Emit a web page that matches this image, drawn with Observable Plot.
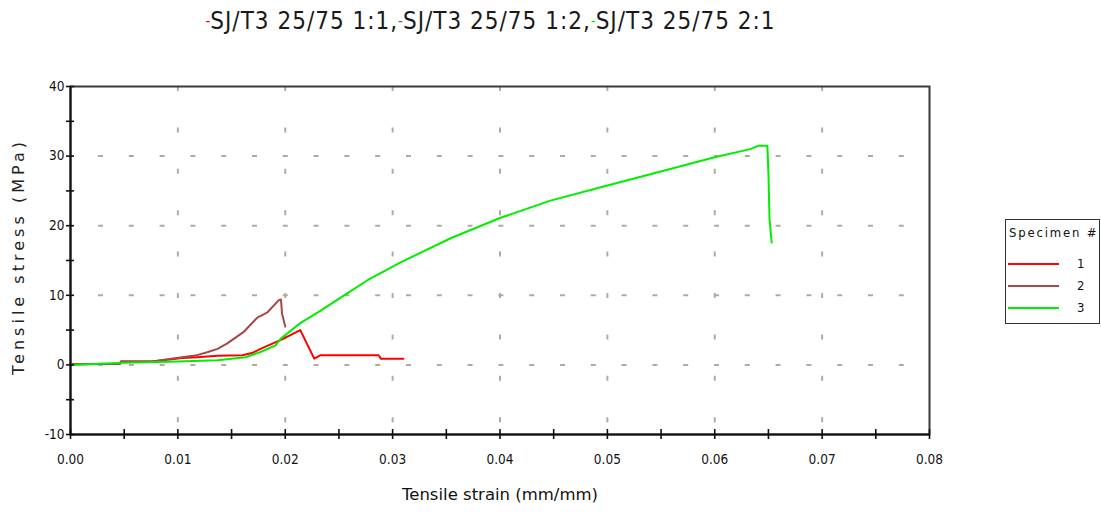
<!DOCTYPE html>
<html>
<head>
<meta charset="utf-8">
<script src="https://cdn.jsdelivr.net/npm/d3@7"></script>
<script src="https://cdn.jsdelivr.net/npm/@observablehq/plot@0.6"></script>
<style>
  html, body { margin: 0; padding: 0; background: #fff; }
  #wrap { position: relative; width: 1101px; height: 512px; overflow: hidden; }
  #chart { position: absolute; left: 0; top: 0; }
  #title {
    position: absolute; left: 0; top: 7px; width: 981px; text-align: center;
    font-family: "DejaVu Sans Condensed", sans-serif; font-size: 24px; letter-spacing: 1px; color: #1a1a1a;
    white-space: nowrap;
  }
  #title .dash { font-size: 15px; position: relative; top: -3px; letter-spacing: 0; }
  #legend {
    position: absolute; left: 1005px; top: 219px; width: 93px; height: 103px;
    border: 1px solid #333; box-sizing: content-box;
    font-family: "DejaVu Sans Condensed", sans-serif; font-size: 13px; color: #111;
  }
  #legend .head { position: absolute; left: 3px; top: 5px; letter-spacing: 1.8px; }
  #legend .row { position: absolute; left: 1px; height: 16px; width: 92px; }
  #legend .row .sw { position: absolute; left: 1px; top: 6px; width: 51px; height: 2px; }
  #legend .row .lab { position: absolute; left: 70px; top: -1px; }
</style>
</head>
<body>
<div id="wrap">
  <div id="chart"></div>
  <div id="title"></div>
  <div id="legend"></div>
</div>
<script>
// Stress–strain curves for three specimens (strain in mm/mm, stress in MPa)
const seriesNames = ["SJ/T3 25/75 1:1", "SJ/T3 25/75 1:2", "SJ/T3 25/75 2:1"];
const specimens = ["1", "2", "3"];

const strain1 = [0, 0.0046, 0.0047, 0.0076, 0.0104, 0.0118, 0.0137, 0.0160, 0.0169, 0.0177, 0.0196, 0.0214, 0.0227, 0.0233, 0.0287, 0.0289, 0.0310];
const stress1 = [0.1, 0.15, 0.5, 0.5, 1.0, 1.1, 1.3, 1.4, 1.7, 2.3, 3.6, 5.0, 0.9, 1.4, 1.4, 0.9, 0.9];

const strain2 = [0, 0.0046, 0.0047, 0.0076, 0.0104, 0.0118, 0.0128, 0.0137, 0.0146, 0.0161, 0.0174, 0.0183, 0.0194, 0.0196, 0.0197, 0.0200];
const stress2 = [0.1, 0.15, 0.5, 0.5, 1.1, 1.4, 1.85, 2.3, 3.1, 4.7, 6.8, 7.5, 9.3, 9.4, 7.4, 5.5];

const strain3 = [0, 0.0050, 0.0100, 0.0137, 0.0163, 0.0177, 0.0191, 0.0196, 0.0214, 0.0233, 0.0258, 0.0277, 0.0307, 0.0354, 0.0400, 0.0447, 0.0493, 0.0540, 0.0599, 0.0633, 0.0641, 0.0649, 0.0650, 0.0651, 0.0653];
const stress3 = [0.0, 0.3, 0.5, 0.66, 1.1, 1.85, 2.8, 3.8, 6.0, 7.8, 10.3, 12.2, 14.7, 18.2, 21.1, 23.6, 25.5, 27.4, 29.8, 31.0, 31.5, 31.5, 27.5, 21.0, 17.6];

// Axis ticks and grid positions
const xTickLabels = [0, 0.01, 0.02, 0.03, 0.04, 0.05, 0.06, 0.07, 0.08];
const xTickMarks = [0, 0.005, 0.01, 0.015, 0.02, 0.025, 0.03, 0.035, 0.04, 0.045, 0.05, 0.055, 0.06, 0.065, 0.07, 0.075, 0.08];
const yTickLabels = [-10, 0, 10, 20, 30, 40];
const yTickMarks = [-10, -5, 0, 5, 10, 15, 20, 25, 30, 35, 40];
const xGrid = [0.01, 0.02, 0.03, 0.04, 0.05, 0.06, 0.07];
const yGrid = [0, 10, 20, 30];

const xTitle = "Tensile strain (mm/mm)";
const yTitle = "Tensile stress (MPa)";

const colors = ["#ff0000", "#a44848", "#00ee00"];

const rows = (xs, ys, s) => xs.map((x, i) => ({strain: x, stress: ys[i], specimen: s}));
const data = [
  ...rows(strain1, stress1, specimens[0]),
  ...rows(strain2, stress2, specimens[1]),
  ...rows(strain3, stress3, specimens[2])
];

const gridColor = "#aeac9c";

const chart = Plot.plot({
  width: 1101,
  height: 512,
  marginTop: 86,
  marginLeft: 70,
  marginRight: 172,
  marginBottom: 78,
  x: {domain: [0, 0.08]},
  y: {domain: [-10, 40]},
  color: {domain: specimens, range: colors},
  style: {fontFamily: "DejaVu Sans Condensed, sans-serif", color: "#111", background: "transparent", overflow: "visible"},
  marks: [
    // dashed grid
    Plot.ruleY(yGrid, {stroke: gridColor, strokeWidth: 2, strokeDasharray: "5 25.8", strokeDashoffset: 2.8}),
    Plot.ruleX(xGrid, {stroke: gridColor, strokeWidth: 2, strokeDasharray: "5 36.4"}),
    // curves
    Plot.line(data, {x: "strain", y: "stress", z: "specimen", stroke: "specimen", strokeWidth: 2}),
    // frame and axis lines
    Plot.frame({stroke: "#3a3a3a", strokeWidth: 2}),
    Plot.ruleY([-10], {stroke: "#111", strokeWidth: 2}),
    Plot.ruleX([0], {stroke: "#111", strokeWidth: 2}),
    // ticks crossing the axis lines
    Plot.ruleX(xTickMarks, {x: d => d, y1: -10, y2: -10, insetTop: -5, insetBottom: -5, stroke: "#111", strokeWidth: 1.6}),
    Plot.ruleY(yTickMarks, {y: d => d, x1: 0, x2: 0, insetLeft: -4, insetRight: -4, stroke: "#111", strokeWidth: 1.6}),
    // tick labels
    Plot.axisX({ticks: xTickLabels, tickSize: 0, tickPadding: 20, tickFormat: d3.format(".2f"), fontSize: 13.5, label: null}),
    Plot.axisY({ticks: yTickLabels, tickSize: 0, tickPadding: 6, tickFormat: d => String(d), fontSize: 13.5, label: null}),
    // axis titles
    Plot.text([xTitle], {text: d => d, frameAnchor: "bottom", dy: 65, fontSize: 16.5, fontFamily: "DejaVu Sans, sans-serif", fill: "#111"}),
    Plot.text([yTitle], {text: d => d, frameAnchor: "left", textAnchor: "middle", dx: -52, dy: -2, rotate: -90, fontSize: 16, fontFamily: "DejaVu Sans, sans-serif", fill: "#222"})
  ]
});
document.getElementById("chart").appendChild(chart);

// widely spaced lettering on the vertical axis title
chart.querySelectorAll("text").forEach(t => {
  if (t.textContent === yTitle) {
    t.setAttribute("textLength", 233);
    t.setAttribute("lengthAdjust", "spacing");
  }
});

// Title built from series names with coloured dashes
const title = document.getElementById("title");
seriesNames.forEach((name, i) => {
  const dash = document.createElement("span");
  dash.className = "dash";
  dash.style.color = colors[i];
  dash.textContent = "-";
  title.appendChild(dash);
  title.appendChild(document.createTextNode(name + (i < seriesNames.length - 1 ? "," : "")));
});

// Legend
const legend = document.getElementById("legend");
const head = document.createElement("div");
head.className = "head";
head.textContent = "Specimen #";
legend.appendChild(head);
specimens.forEach((s, i) => {
  const row = document.createElement("div");
  row.className = "row";
  row.style.top = (37 + i * 22) + "px";
  const sw = document.createElement("div");
  sw.className = "sw";
  sw.style.background = colors[i];
  const lab = document.createElement("div");
  lab.className = "lab";
  lab.textContent = s;
  row.appendChild(sw);
  row.appendChild(lab);
  legend.appendChild(row);
});
</script>
</body>
</html>
